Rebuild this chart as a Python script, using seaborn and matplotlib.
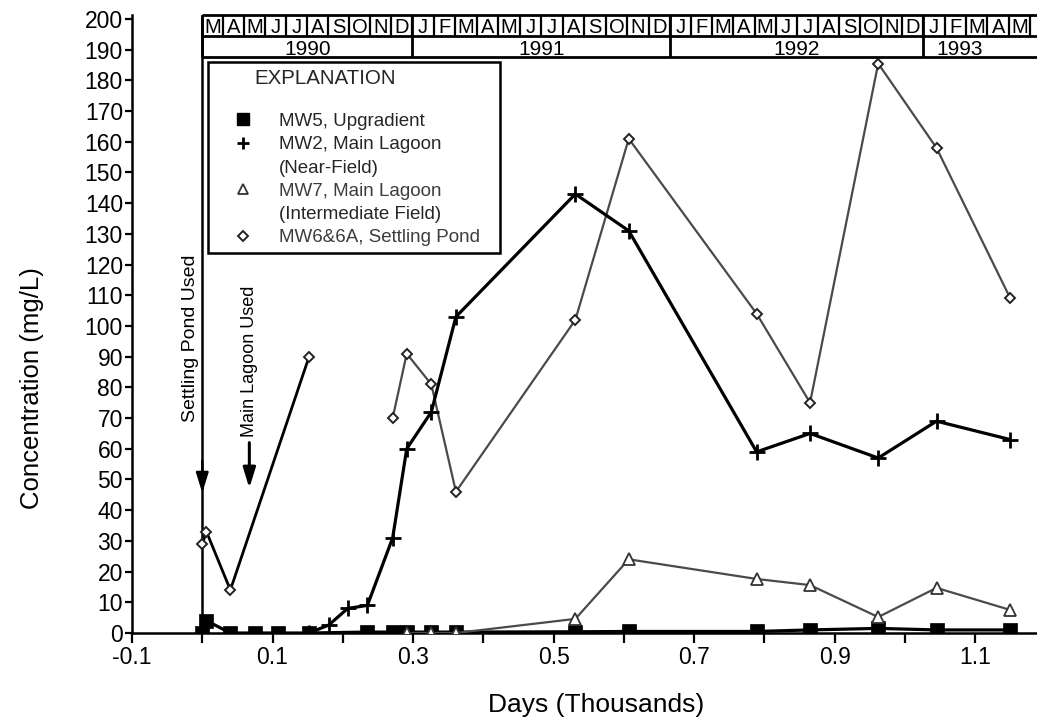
import matplotlib
matplotlib.use("Agg")
import matplotlib.pyplot as plt
from matplotlib.lines import Line2D
from matplotlib.patches import ArrowStyle
import numpy as np
import seaborn as sns

# Sampling days (thousands of days since early March 1990) and concentrations (mg/L)
mw5_days = [0.000, 0.006, 0.040, 0.075, 0.108, 0.152, 0.234, 0.271, 0.291,
            0.326, 0.361, 0.531, 0.607, 0.789, 0.865, 0.962, 1.045, 1.150]
mw5_conc = [0.0, 4.0, 0.0, 0.0, 0.0, 0.0, 0.3, 0.3, 0.3,
            0.3, 0.3, 0.4, 0.5, 0.5, 1.0, 1.5, 1.0, 1.0]

mw2_days = [0.152, 0.180, 0.207, 0.235, 0.271, 0.291, 0.326, 0.361,
            0.531, 0.607, 0.789, 0.865, 0.962, 1.045, 1.150]
mw2_conc = [0.0, 2.6, 8.0, 9.0, 31.0, 60.0, 72.0, 103.0,
            143.0, 131.0, 59.0, 65.0, 57.0, 69.0, 63.0]

mw7_days = [0.291, 0.326, 0.361, 0.531, 0.607, 0.789, 0.865, 0.962, 1.045, 1.150]
mw7_conc = [0.0, 0.0, 0.0, 4.6, 24.0, 17.6, 15.6, 5.2, 14.7, 7.5]

mw6_days = [0.000, 0.006, 0.040, 0.152]
mw6_conc = [29.0, 33.0, 14.0, 90.0]

mw6a_days = [0.271, 0.291, 0.326, 0.361, 0.531, 0.607, 0.789, 0.865, 0.962, 1.045, 1.150]
mw6a_conc = [70.0, 91.0, 81.0, 46.0, 102.0, 161.0, 104.0, 75.0, 185.5, 158.0, 109.0]

# Axis ticks
xtick_major = [-0.1, 0.1, 0.3, 0.5, 0.7, 0.9, 1.1]
xtick_labels = ["-0.1", "0.1", "0.3", "0.5", "0.7", "0.9", "1.1"]
xtick_minor = [0.0, 0.2, 0.4, 0.6, 0.8, 1.0]
ytick_values = list(range(0, 201, 10))

# Calendar strip along the top
year_labels = ["1990", "1991", "1992", "1993"]
year_months = ["MAMJJASOND", "JFMAMJJASOND", "JFMAMJJASOND", "JFMAM"]

legend_labels = ["MW5, Upgradient",
                 "MW2, Main Lagoon", "(Near-Field)",
                 "MW7, Main Lagoon", "(Intermediate Field)",
                 "MW6&6A, Settling Pond"]

# ---------------------------------------------------------------- style
sns.set_style("ticks")
plt.rcParams["font.family"] = ["Liberation Sans", "DejaVu Sans"]
plt.rcParams["axes.unicode_minus"] = False

W, H = 1037, 719
fig = plt.figure(figsize=(W / 100, H / 100), dpi=100)
ax = fig.add_axes([132 / W, 86 / H, 905 / W, 618 / H])

X_MAX = 1.188
Y_MAX = 201.3
grey = "#4a4a4a"

# ---------------------------------------------------------------- data lines
sns.lineplot(x=mw6_days, y=mw6_conc, ax=ax, color="black", linewidth=2.0,
             marker="D", markersize=5.5, markerfacecolor="white",
             markeredgecolor="#222222", markeredgewidth=1.4,
             estimator=None, sort=False, zorder=3)
sns.lineplot(x=mw6a_days, y=mw6a_conc, ax=ax, color=grey, linewidth=1.6,
             marker="D", markersize=5.5, markerfacecolor="white",
             markeredgecolor="#222222", markeredgewidth=1.4,
             estimator=None, sort=False, zorder=3)
sns.lineplot(x=mw2_days, y=mw2_conc, ax=ax, color="black", linewidth=2.3,
             marker="+", markersize=11, markeredgecolor="black",
             markeredgewidth=2.0, estimator=None, sort=False, zorder=4)
sns.lineplot(x=mw5_days, y=mw5_conc, ax=ax, color="black", linewidth=2.3,
             marker="s", markersize=10.5, markerfacecolor="black",
             markeredgecolor="black", markeredgewidth=0.5,
             estimator=None, sort=False, zorder=5)
sns.lineplot(x=mw7_days, y=mw7_conc, ax=ax, color=grey, linewidth=1.6,
             marker="^", markersize=8, markerfacecolor="white",
             markeredgecolor="#333333", markeredgewidth=1.3,
             estimator=None, sort=False, zorder=6)

# ---------------------------------------------------------------- axes
ax.set_xlim(-0.1, X_MAX)
ax.set_ylim(0, Y_MAX)
ax.set_xticks(xtick_major)
ax.set_xticklabels(xtick_labels)
ax.set_xticks(xtick_minor, minor=True)
ax.set_yticks(ytick_values)
ax.set_yticklabels([str(v) for v in ytick_values])
ax.tick_params(axis="both", which="both", direction="out", width=1.6,
               color="black", labelsize=16.5, labelcolor="black")
ax.tick_params(axis="x", which="both", length=7.2, pad=2)
ax.tick_params(axis="y", which="both", length=5, pad=1.5)
sns.despine(ax=ax)
for side in ("left", "bottom"):
    ax.spines[side].set_linewidth(1.8)
    ax.spines[side].set_color("black")

ax.set_xlabel("Days (Thousands)", fontsize=19, color="black")
ax.set_ylabel("Concentration (mg/L)", fontsize=18.5, color="black")
ax.xaxis.set_label_coords(0.513, -0.097)
ax.yaxis.set_label_coords(-0.097, 0.396)

# ---------------------------------------------------------------- calendar strip
xtr = ax.get_xaxis_transform()
band_top, band_mid, band_bot = 1.0, 0.966, 0.932
year_edges = [0.0, 0.299, 0.666, 1.026]
month_width_1993 = 0.0305
year_label_span_end = [0.299, 0.666, 1.026, 1.13]

ax.hlines([band_top, band_mid, band_bot], 0, X_MAX, transform=xtr,
          colors="black", linewidth=2.0, clip_on=False, zorder=7)
ax.vlines(year_edges, band_bot, band_top, transform=xtr, colors="black",
          linewidth=2.0, clip_on=False, zorder=7)

for i, (start, months) in enumerate(zip(year_edges, year_months)):
    if i + 1 < len(year_edges):
        edges = np.linspace(start, year_edges[i + 1], len(months) + 1)
    else:
        edges = start + month_width_1993 * np.arange(len(months) + 1)
    ax.vlines(edges[1:], band_mid, band_top, transform=xtr, colors="black",
              linewidth=1.6, clip_on=False, zorder=7)
    for letter, a, b in zip(months, edges[:-1], edges[1:]):
        ax.text((a + b) / 2, 0.9707, letter, transform=xtr, ha="center",
                va="baseline", fontsize=14.5, color="black", clip_on=False)
    ax.text((start + year_label_span_end[i]) / 2, 0.9356, year_labels[i],
            transform=xtr, ha="center", va="baseline", fontsize=15,
            color="black", clip_on=False)

# ---------------------------------------------------------------- event arrows
ax.axvline(0, 0, band_top, color="black", linewidth=1.8, zorder=2)
head = ArrowStyle("-|>", head_length=0.55, head_width=0.17)
ax.annotate("", xy=(0, 45.6), xytext=(0, 56),
            arrowprops=dict(arrowstyle=head, mutation_scale=22, color="black",
                            lw=1.8, shrinkA=0, shrinkB=0))
ax.annotate("", xy=(0.067, 47.2), xytext=(0.067, 62.0),
            arrowprops=dict(arrowstyle=head, mutation_scale=22, color="black",
                            lw=2.2, shrinkA=0, shrinkB=0))
ax.text(-0.017, 68.8, "Settling Pond Used", rotation=90, ha="center",
        va="bottom", fontsize=14, color="black")
ax.text(0.067, 64.0, "Main Lagoon Used", rotation=90, ha="center",
        va="bottom", fontsize=13, color="black")

# ---------------------------------------------------------------- legend
blank = dict(linestyle="none", marker="")
handles = [
    Line2D([], [], linestyle="none", marker="s", markersize=8.5, color="black"),
    Line2D([], [], linestyle="none", marker="+", markersize=9,
           markeredgewidth=2.0, color="black"),
    Line2D([], [], **blank),
    Line2D([], [], linestyle="none", marker="^", markersize=7.5,
           markerfacecolor="white", markeredgecolor="#333333",
           markeredgewidth=1.3),
    Line2D([], [], **blank),
    Line2D([], [], linestyle="none", marker="D", markersize=5.5,
           markerfacecolor="white", markeredgecolor="#222222",
           markeredgewidth=1.4),
]
leg = ax.legend(handles, legend_labels, loc="upper left",
                bbox_to_anchor=(0.084, 0.62, 0.3227, 0.304), mode="expand",
                borderaxespad=0, borderpad=0.35, handlelength=3.03,
                handletextpad=0.4, labelspacing=0.33, fontsize=13.5,
                title="EXPLANATION", title_fontsize=14.8, alignment="left",
                frameon=True, fancybox=False, edgecolor="black",
                facecolor="white", framealpha=1)
leg.get_frame().set_linewidth(1.8)
leg.set_zorder(8)
leg._legend_box.sep = 18.2
leg.get_title().set_x(40)
leg.get_texts()[3].set_color("#3c3c3c")
leg.get_texts()[5].set_color("#3c3c3c")

fig.savefig("out.png", dpi=100)
